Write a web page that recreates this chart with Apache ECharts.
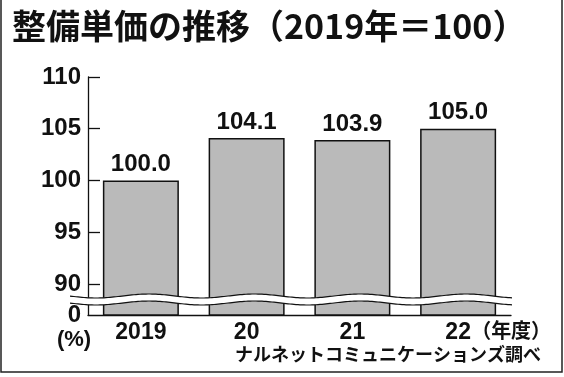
<!DOCTYPE html>
<html>
<head>
<meta charset="utf-8">
<script src="https://cdn.jsdelivr.net/npm/echarts@6/dist/echarts.min.js"></script>
<style>
  html, body { margin: 0; padding: 0; background: #fff; }
  #main { width: 564px; height: 377px; }
</style>
</head>
<body>
<div id="main"></div>
<script>
// 年度と整備単価（2019年＝100）
const years = ['2019', '20', '21', '22']
const values = [100.0, 104.1, 103.9, 105.0]
const yTicks = [90, 95, 100, 105, 110]
const yBase = 87   // 省略線の下、「0」として表示
const yMax = 110
const titleText = '整備単価の推移（2019年＝100）'
const sourceText = 'ナルネットコミュニケーションズ調べ'

const numFont = "'Liberation Sans', Arial, sans-serif"
const jpFont = "'Noto Sans CJK JP', sans-serif"

const chart = echarts.init(document.getElementById('main'), null, {renderer: 'canvas'})

const option = {
  animation: false,
  title: [
    {
      text: titleText,
      left: 7,
      top: 4,
      textStyle: {fontFamily: jpFont, fontWeight: 'bold', fontSize: 34, color: '#111'}
    },
    {
      text: sourceText,
      right: 18,
      bottom: 9,
      textStyle: {fontFamily: jpFont, fontWeight: 'bold', fontSize: 18, color: '#111'}
    }
  ],
  grid: {left: 88, right: 53, top: 77, bottom: 62},
  xAxis: {
    type: 'category',
    data: years,
    axisLine: {lineStyle: {color: '#111', width: 1.3}},
    axisTick: {show: false},
    axisLabel: {
      margin: 6,
      fontFamily: numFont, fontWeight: 'bold', fontSize: 23, color: '#111'
    }
  },
  yAxis: {
    type: 'value',
    min: yBase,
    max: yMax,
    splitLine: {show: false},
    axisLine: {show: true, lineStyle: {color: '#111', width: 1.3}},
    axisTick: {show: true, inside: true, length: 12, customValues: yTicks, lineStyle: {color: '#111', width: 1.3}},
    axisLabel: {
      customValues: [yBase].concat(yTicks),
      margin: 7,
      formatter: v => v === yBase ? '0' : String(v),
      fontFamily: numFont, fontWeight: 'bold', fontSize: 24, color: '#111'
    }
  },
  series: [{
    type: 'bar',
    data: values,
    barWidth: 76,
    itemStyle: {color: '#bababa', borderColor: '#111', borderWidth: 1.5},
    label: {
      show: true,
      position: 'top',
      distance: 4,
      formatter: p => p.value.toFixed(1),
      fontFamily: numFont, fontWeight: 'bold', fontSize: 24, color: '#111'
    }
  }]
}
chart.setOption(option)

// 省略線（波線）と補助テキスト
const c0 = chart.convertToPixel({xAxisIndex: 0}, years[0])
const c1 = chart.convertToPixel({xAxisIndex: 0}, years[1])
const cLast = chart.convertToPixel({xAxisIndex: 0}, years[years.length - 1])
const catW = c1 - c0
const gridL = c0 - catW / 2
const gridR = cLast + catW / 2
const yZero = chart.convertToPixel({yAxisIndex: 0}, yBase)
const yUp = yZero - 19
const yLo = yZero - 12
const amp = 2

function wave(yc, x0, x1) {
  const pts = []
  for (let x = x0; x <= x1; x += 2) {
    pts.push([x, yc - amp * Math.cos(2 * Math.PI * (x - c0 - 8) / catW)])
  }
  return pts
}
const upper = wave(yUp, gridL - 18, gridR + 2)
const lower = wave(yLo, gridL - 18, gridR + 2)

chart.setOption({
  graphic: [
    {
      type: 'polygon', z: 100,
      shape: {points: upper.concat(lower.slice().reverse())},
      style: {fill: '#fff', stroke: null}
    },
    {
      type: 'polyline', z: 101,
      shape: {points: upper},
      style: {stroke: '#111', lineWidth: 1.2, fill: null}
    },
    {
      type: 'polyline', z: 101,
      shape: {points: lower},
      style: {stroke: '#111', lineWidth: 1.2, fill: null}
    },
    {
      type: 'text', z: 101,
      x: gridL - 14, y: yZero + 14,
      style: {
        text: '(%)', textAlign: 'center', textVerticalAlign: 'top',
        fontFamily: numFont, fontWeight: 'bold', fontSize: 22, fill: '#111'
      }
    },
    {
      type: 'text', z: 101,
      x: cLast + 13, y: yZero + 5,
      style: {
        text: '（年度）', textAlign: 'left', textVerticalAlign: 'top',
        fontFamily: jpFont, fontWeight: 'bold', fontSize: 20, fill: '#111'
      }
    },
    {
      type: 'rect', z: 102,
      shape: {x: 1, y: -4, width: 561, height: 376},
      style: {fill: null, stroke: '#222', lineWidth: 1.5}
    }
  ]
})
</script>
</body>
</html>
